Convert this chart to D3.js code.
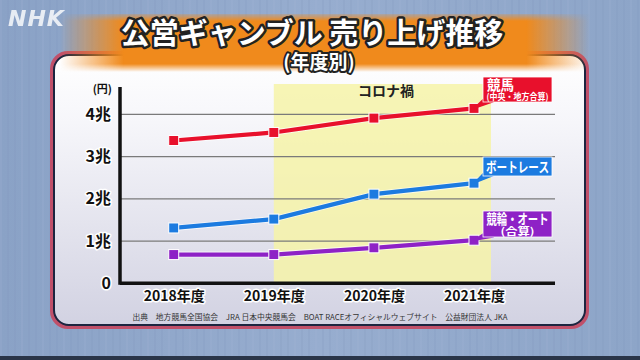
<!DOCTYPE html>
<html><head><meta charset="utf-8">
<script src="https://cdn.jsdelivr.net/npm/d3@7"></script>
<style>html,body{margin:0;padding:0;background:#90a7c9;}svg{display:block;}</style>
</head><body>
<svg id="c" width="640" height="360"></svg>
<script>
const years = ["2018年度","2019年度","2020年度","2021年度"];
const keiba = [3.38, 3.57, 3.91, 4.14];
const boat = [1.31, 1.52, 2.11, 2.37];
const keirin = [0.68, 0.68, 0.84, 1.02];
const yTicks = [0,1,2,3,4];
const yTickLabels = ["0","1兆","2兆","3兆","4兆"];
const titleText = "公営ギャンブル 売り上げ推移";
const subtitleText = "(年度別)";
const sourceText = "出典　地方競馬全国協会　JRA 日本中央競馬会　BOAT RACEオフィシャルウェブサイト　公益財団法人 JKA";

const F = "'Noto Sans CJK JP','Noto Sans',sans-serif";
const svg = d3.select("#c");
const defs = svg.append("defs");

// background texture
const bg = defs.append("linearGradient").attr("id","bg").attr("x1",0).attr("x2",1);
bg.append("stop").attr("offset",0).attr("stop-color","#8aa2c6");
bg.append("stop").attr("offset",0.5).attr("stop-color","#97adcf");
bg.append("stop").attr("offset",1).attr("stop-color","#8da5c8");
svg.append("rect").attr("width",640).attr("height",360).attr("fill","url(#bg)");
const stripes = d3.range(0,640,7);
svg.append("g").selectAll("rect").data(stripes).join("rect")
  .attr("x",d=>d).attr("y",0).attr("width",2).attr("height",360)
  .attr("fill",(d,i)=> i%3===0 ? "#a4b8d6" : "#7f98bf").attr("opacity",0.18);
svg.append("rect").attr("x",0).attr("y",356).attr("width",640).attr("height",4).attr("fill","#2a3548");

// panel
const pg = defs.append("linearGradient").attr("id","pg").attr("x1",0).attr("x2",0).attr("y1",0).attr("y2",1);
pg.append("stop").attr("offset",0).attr("stop-color","#ffffff");
pg.append("stop").attr("offset",0.25).attr("stop-color","#f6f6fa");
pg.append("stop").attr("offset",1).attr("stop-color","#d2d2e2");
svg.append("rect").attr("x",52).attr("y",53).attr("width",535).attr("height",274).attr("rx",16)
  .attr("fill","none").attr("stroke","#c0506a").attr("stroke-width",4);
svg.append("rect").attr("x",54).attr("y",55).attr("width",531).attr("height",270).attr("rx",15)
  .attr("fill","url(#pg)").attr("stroke","#1c2540").attr("stroke-width",2);

// orange title band
const og = defs.append("linearGradient").attr("id","og").attr("x1",0).attr("x2",1);
og.append("stop").attr("offset",0).attr("stop-color","#f08a1c").attr("stop-opacity",0);
og.append("stop").attr("offset",0.12).attr("stop-color","#f08a1c").attr("stop-opacity",1);
og.append("stop").attr("offset",0.88).attr("stop-color","#f08a1c").attr("stop-opacity",1);
og.append("stop").attr("offset",1).attr("stop-color","#f08a1c").attr("stop-opacity",0);
const ov = defs.append("linearGradient").attr("id","ov").attr("x1",0).attr("x2",0).attr("y1",0).attr("y2",1);
ov.append("stop").attr("offset",0).attr("stop-color","#fff").attr("stop-opacity",0.2);
ov.append("stop").attr("offset",0.12).attr("stop-color","#fff").attr("stop-opacity",1);
ov.append("stop").attr("offset",0.86).attr("stop-color","#fff").attr("stop-opacity",1);
ov.append("stop").attr("offset",1).attr("stop-color","#fff").attr("stop-opacity",0);
const om = defs.append("mask").attr("id","om");
om.append("rect").attr("x",60).attr("y",14).attr("width",530).attr("height",58).attr("fill","url(#ov)");
svg.append("rect").attr("x",60).attr("y",14).attr("width",530).attr("height",58)
  .attr("fill","url(#og)").attr("mask","url(#om)");

// NHK logo
svg.append("text").attr("x",8).attr("y",26).attr("font-family","'DejaVu Sans',sans-serif")
  .attr("font-weight","bold").attr("font-style","italic").attr("font-size",22)
  .attr("fill","#ffffff").attr("opacity",0.8).attr("letter-spacing",1).text("NHK");

// title + subtitle (one text block)
const tt = svg.append("text").attr("text-anchor","middle")
  .attr("font-family",F).attr("font-weight","bold")
  .attr("fill","#fff").attr("stroke","#222").attr("paint-order","stroke").attr("stroke-linejoin","round");
tt.append("tspan").attr("x",312).attr("y",44).attr("font-size",29).attr("stroke-width",5).text(titleText);
tt.append("tspan").attr("x",319).attr("y",69).attr("font-size",19).attr("stroke-width",4).text(subtitleText);

// scales
const x = d3.scalePoint().domain(years).range([173.7, 474]);
const y = d3.scaleLinear().domain([0,4]).range([283.3, 114.3]);
const x0 = 120, x1 = 555;

// corona band
svg.append("rect").attr("x",x(years[1])).attr("y",84).attr("width",x(years[3])+17-x(years[1]))
  .attr("height",y(0)-84).attr("fill","#f6f3a8").attr("opacity",0.85);
svg.append("text").attr("x",386).attr("y",96).attr("text-anchor","middle")
  .attr("font-family",F).attr("font-weight","bold").attr("font-size",14).attr("fill","#222").text("コロナ禍");

// grid
svg.append("g").selectAll("line").data(yTicks.filter(d=>d>0)).join("line")
  .attr("x1",x0).attr("x2",x1).attr("y1",d=>y(d)).attr("y2",d=>y(d))
  .attr("stroke","#7a7a7a").attr("stroke-width",1.2);

// y axis
const yAxis = d3.axisLeft(y).tickValues(yTicks).tickFormat((d,i)=>yTickLabels[i]).tickSize(0).tickPadding(8);
const ya = svg.append("g").attr("transform",`translate(${x0},0)`).call(yAxis);
ya.select(".domain").remove();
ya.selectAll("text").attr("font-family",F).attr("font-weight","bold").attr("font-size",16)
  .attr("fill","#111").attr("stroke","#fff").attr("stroke-width",3).attr("paint-order","stroke")
  .attr("stroke-linejoin","round").attr("dx",-1);
svg.append("text").attr("x",112).attr("y",93).attr("text-anchor","end")
  .attr("font-family",F).attr("font-weight","bold").attr("font-size",11).attr("fill","#111").text("(円)");

// x axis
const xAxis = d3.axisBottom(x).tickSize(0).tickPadding(8);
const xa = svg.append("g").attr("transform",`translate(0,${y(0)})`).call(xAxis);
xa.select(".domain").remove();
xa.selectAll("text").attr("font-family",F).attr("font-weight","bold").attr("font-size",14)
  .attr("fill","#111").attr("stroke","#fff").attr("stroke-width",3).attr("paint-order","stroke")
  .attr("stroke-linejoin","round");

svg.append("line").attr("x1",x0).attr("x2",x1).attr("y1",y(0)).attr("y2",y(0)).attr("stroke","#111").attr("stroke-width",3.5);
svg.append("line").attr("x1",x0).attr("x2",x0).attr("y1",87).attr("y2",y(0)+1.5).attr("stroke","#111").attr("stroke-width",3.5);

// series
const series = [
  {name:"keiba", vals:keiba, color:"#e8102c", lab:["競馬","(中央・地方合算)"], by:77, bh:25},
  {name:"boat", vals:boat, color:"#1c7be0", lab:["ボートレース"], by:157, bh:19},
  {name:"keirin", vals:keirin, color:"#8e22c6", lab:["競輪・オート","(合算)"], by:211, bh:26}
];
const line = d3.line().x((d,i)=>x(years[i])).y(d=>y(d));
series.forEach(s=>{
  const g = svg.append("g");
  g.append("path").datum(s.vals).attr("d",line).attr("fill","none").attr("stroke","#fff")
    .attr("stroke-width",6).attr("opacity",0.7);
  g.append("path").datum(s.vals).attr("d",line).attr("fill","none").attr("stroke",s.color).attr("stroke-width",4.2);
  g.selectAll("rect").data(s.vals).join("rect")
    .attr("x",(d,i)=>x(years[i])-5).attr("y",d=>y(d)-5).attr("width",10).attr("height",10)
    .attr("fill",s.color).attr("stroke","#fff").attr("stroke-width",1);
  // label box
  const px = x(years[3]), py = y(s.vals[3]);
  const bx = 483, bw = 69;
  g.append("path").attr("d",`M${px},${py} L${bx+2},${s.by+s.bh-4} L${bx+9},${s.by+s.bh}Z`)
    .attr("fill",s.color).attr("stroke",s.color).attr("stroke-width",1.5);
  g.append("rect").attr("x",bx).attr("y",s.by).attr("width",bw).attr("height",s.bh)
    .attr("fill",s.color).attr("stroke","#fff").attr("stroke-width",0.8);
  const t = g.append("text").attr("font-family",F).attr("font-weight","bold").attr("fill","#fff");
  const ts = (tx, ty, anchor, size, len, str) => {
    const e = t.append("tspan").attr("x",tx).attr("y",ty).attr("text-anchor",anchor).attr("font-size",size).text(str);
    if (len) e.attr("textLength",len).attr("lengthAdjust","spacingAndGlyphs");
  };
  if (s.name==="boat"){
    ts(bx+bw/2, s.by+s.bh/2+5, "middle", 14, 63, s.lab[0]);
  } else if (s.name==="keiba"){
    ts(bx+4, s.by+12.5, "start", 13.5, 0, s.lab[0]);
    ts(bx+bw/2, s.by+s.bh-2.5, "middle", 9, 62, s.lab[1]);
  } else {
    ts(bx+bw/2, s.by+12.5, "middle", 13.5, 62, s.lab[0]);
    ts(bx+bw/2, s.by+s.bh-2, "middle", 10, 34, s.lab[1]);
  }
});

// source
svg.append("text").attr("x",320).attr("y",320).attr("text-anchor","middle")
  .attr("font-family",F).attr("font-size",8).attr("fill","#333")
  .attr("textLength",375).attr("lengthAdjust","spacingAndGlyphs").text(sourceText);
</script>
</body></html>
